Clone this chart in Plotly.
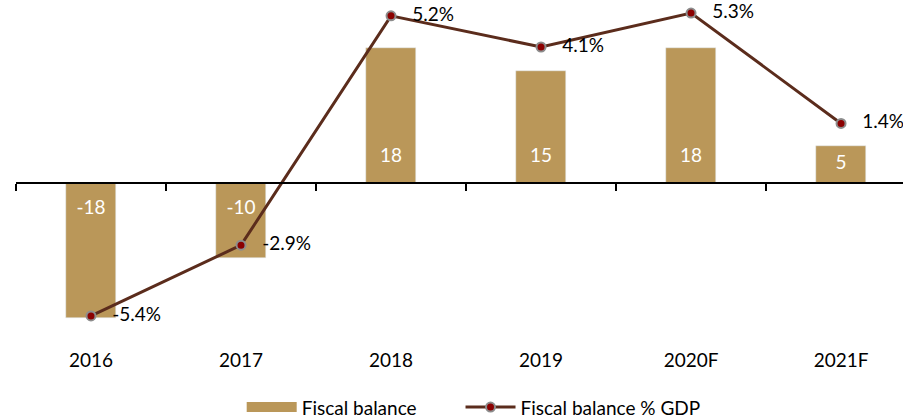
import plotly.graph_objects as go

# data
years = ['2016', '2017', '2018', '2019', '2020F', '2021F']
fiscal_balance = [-18, -10, 18, 15, 18, 5]
balance_pct_gdp = [-5.4, -2.9, 5.2, 4.1, 5.3, 1.4]

bar_color = '#BA9759'
line_color = '#5B2C1C'
font = 'Lato, Carlito, Liberation Sans, sans-serif'
fs = 19
nb = '\u00a0'

# bar labels sit near the bar base (like excel "inside base")
label_y = [(1 if v > 0 else -1) * min(3.45, abs(v) / 2) for v in fiscal_balance]

fig = go.Figure()
fig.add_trace(go.Bar(x=years, y=fiscal_balance, name='Fiscal balance',
                     marker=dict(color=bar_color), width=0.334,
                     showlegend=False, xaxis='x', yaxis='y'))
fig.add_trace(go.Scatter(x=years, y=label_y, mode='text',
                         text=[str(v) for v in fiscal_balance],
                         textfont=dict(color='white', size=fs, family=font),
                         showlegend=False, hoverinfo='skip',
                         xaxis='x', yaxis='y'))
# legend-only entry so the bar swatch is a wide block
fig.add_trace(go.Scatter(x=[None], y=[None], mode='lines',
                         name='Fiscal balance' + nb * 8,
                         line=dict(color=bar_color, width=12),
                         xaxis='x', yaxis='y'))
fig.add_trace(go.Scatter(x=years, y=balance_pct_gdp, name='Fiscal balance % GDP',
                         mode='lines+markers+text',
                         line=dict(color=line_color, width=3),
                         marker=dict(color='#8B0000', size=9,
                                     line=dict(color='#8C8C8C', width=2)),
                         text=[nb * 3 + '%.1f%%' % v for v in balance_pct_gdp],
                         textposition='middle right',
                         textfont=dict(color='black', size=fs, family=font),
                         cliponaxis=False,
                         xaxis='x2', yaxis='y2'))

xrange = [-0.5, 5.413]
fig.update_layout(
    width=903, height=419,
    margin=dict(l=16, r=0, t=0, b=79, autoexpand=False),
    plot_bgcolor='white', paper_bgcolor='white',
    font=dict(family=font, size=fs, color='black'),
    bargap=0,
    showlegend=True,
    legend=dict(orientation='h', x=0.516, xanchor='center',
                yref='container', y=0.028, yanchor='middle',
                font=dict(size=fs), itemwidth=50),
    xaxis=dict(type='category', range=xrange, showline=False, showgrid=False,
               ticks='', ticklabelstandoff=7, tickfont=dict(size=fs),
               automargin=False),
    xaxis2=dict(type='category', range=xrange, overlaying='x', anchor='free',
                position=(340 - 183) / 340, side='bottom',
                showline=True, linecolor='black', linewidth=2,
                ticks='outside', ticklen=7, tickwidth=2, tickcolor='black',
                tickmode='array', tickvals=[i - 0.5 for i in range(7)],
                showticklabels=False, showgrid=False, automargin=False),
    yaxis=dict(range=[-20.93, 24.4], visible=False, zeroline=False, showgrid=False),
    yaxis2=dict(range=[-6.25, 5.76], overlaying='y', visible=False,
                zeroline=False, showgrid=False),
)

fig.write_html("out.html", config={'displayModeBar': False},
               post_script="document.body.style.margin='0';")
